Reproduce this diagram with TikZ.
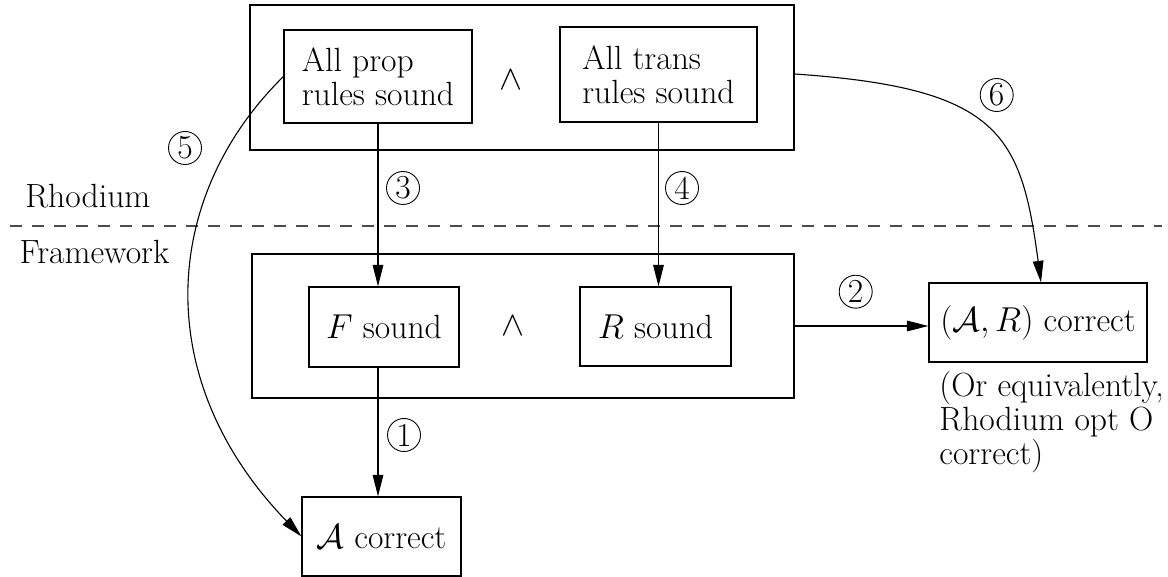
\documentclass[tikz,border=0pt]{standalone}
\usetikzlibrary{arrows.meta}
\begin{document}
\begin{tikzpicture}[x=0.5pt,y=-0.5pt,
  every node/.style={font=\fontsize{16.8}{17}\selectfont},
  box/.style={draw, line width=0.55pt, inner sep=0pt},
  arr/.style={line width=0.55pt, -{Triangle[length=10.8pt,width=5.3pt]}},
  num/.style={circle, draw, line width=0.45pt, inner sep=0pt, minimum size=16.5pt},
  lbl/.style={inner sep=0pt},
  sep/.style={line width=0.55pt, black!70, dash pattern=on 6pt off 5pt}]
\useasboundingbox (0,0) rectangle (1168,577);
% Rhodium level
\node[box, minimum width=272pt, minimum height=72.5pt] (top) at (522,77.5) {};
\node[box, minimum width=94pt, minimum height=46.5pt, align=left] (prop) at (378,76.5) {All prop\\rules sound};
\node[box, minimum width=98.5pt, minimum height=47.5pt, align=left] (trans) at (658.5,74.5) {All trans\\rules sound};
\node[lbl] (and1) at (511,79.5) {$\wedge$};
% separator
\coordinate (sepL) at (10,226);
\coordinate (sepR) at (1162,226);
\draw[sep] (sepL) -- (sepR);
\node[lbl, anchor=base west] (rho) at (25,207.3) {Rhodium};
\node[lbl, anchor=base west] (fw) at (19.3,263.5) {Framework};
% Framework level
\node[box, minimum width=271pt, minimum height=72pt] (low) at (523,326) {};
\node[box, minimum width=75pt, minimum height=40pt] (F) at (384,327) {$F$ sound};
\node[box, minimum width=75.5pt, minimum height=39.5pt] (R) at (655.5,326.5) {$R$ sound};
\node[lbl] (and2) at (513,325.5) {$\wedge$};
\node[box, minimum width=109pt, minimum height=39.5pt] (AR) at (1038,322.5) {$(\mathcal{A},R)$ correct};
\node[lbl, anchor=north west, align=left] (note) at (939,370.5) {(Or equivalently,\\Rhodium opt O\\correct)};
\node[box, minimum width=79.5pt, minimum height=39.5pt] (A) at (381.5,536.5) {$\mathcal{A}$ correct};
% connectors
\draw[arr] (prop.south) -- (prop.south |- F.north);
\draw[arr] (trans.south) -- (trans.south |- R.north);
\draw[arr] (prop.south |- F.south) -- (prop.south |- A.north);
\draw[arr] (low.east) -- (low.east -| AR.west);
\draw[arr] (prop.west) .. controls (161,197) and (150,380) .. (A.west);
\draw[arr] ([yshift=1.75pt]top.east) .. controls (1000,88) and (1021,134) .. ([xshift=1.5pt]AR.north);
% circled numbers
\node[num] (n1) at (404,435) {1};
\node[num] (n2) at (855.7,291.7) {2};
\node[num] (n3) at (403,188) {3};
\node[num] (n4) at (682,188) {4};
\node[num] (n5) at (185,148) {5};
\node[num] (n6) at (996.7,95) {6};
\end{tikzpicture}
\end{document}
